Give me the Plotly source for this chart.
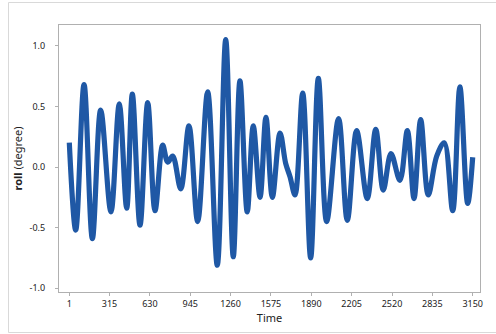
import plotly.graph_objects as go

# Key points (time, roll in degrees)
time_pts = [1, 51, 116, 181, 246, 326, 391, 449, 493, 553, 613, 670, 730, 769, 808,
            871, 935, 1003, 1081, 1156, 1222, 1281, 1333, 1390, 1437, 1490, 1536,
            1586, 1646, 1690, 1724, 1763, 1823, 1885, 1945, 2010, 2103, 2171, 2244,
            2327, 2393, 2452, 2512, 2582, 2640, 2692, 2744, 2803, 2869, 2928, 2994,
            3050, 3111, 3150]
roll_pts = [0.20, -0.52, 0.68, -0.59, 0.47, -0.37, 0.52, -0.34, 0.60, -0.48, 0.53,
            -0.36, 0.18, 0.04, 0.09, -0.18, 0.34, -0.45, 0.62, -0.81, 1.05, -0.74,
            0.71, -0.37, 0.34, -0.25, 0.41, -0.25, 0.28, 0.03, -0.08, -0.23, 0.61,
            -0.75, 0.73, -0.45, 0.40, -0.44, 0.30, -0.26, 0.31, -0.19, 0.11, -0.11,
            0.30, -0.26, 0.39, -0.23, 0.09, 0.20, -0.36, 0.66, -0.30, 0.08]

x_ticks = [1, 315, 630, 945, 1260, 1575, 1890, 2205, 2520, 2835, 3150]
y_ticks = [-1.0, -0.5, 0.0, 0.5, 1.0]
y_tick_text = ["-1.0", "-0.5", "0.0", "0.5", "1.0"]

BLUE = "#1f58a5"
FONT = "Noto Sans"

fig = go.Figure()
fig.add_trace(go.Scatter(
    x=time_pts, y=roll_pts, mode="lines",
    line=dict(color=BLUE, width=5.2, shape="spline", smoothing=1.0),
    hoverinfo="skip", showlegend=False,
))

W, H = 496, 334
L, R, T, B = 59, 16, 25, 42
pw, ph = W - L - R, H - T - B

def px2paper_x(px):
    return (px - L) / pw

def py2paper_y(py):
    return (H - B - py) / ph

frame = dict(color="#d9d9d9", width=1)
xl, xr = px2paper_x(8.5), px2paper_x(496)
yt, yb = py2paper_y(2.5), py2paper_y(332.5)
fig.add_shape(type="line", xref="paper", yref="paper", x0=xl, x1=xr, y0=yt, y1=yt, line=frame, layer="below")
fig.add_shape(type="line", xref="paper", yref="paper", x0=xl, x1=xr, y0=yb, y1=yb, line=frame, layer="below")
fig.add_shape(type="line", xref="paper", yref="paper", x0=xl, x1=xl, y0=yb, y1=yt, line=frame, layer="below")

fig.update_layout(
    width=W, height=H,
    margin=dict(l=L, r=R, t=T, b=B),
    paper_bgcolor="white", plot_bgcolor="white",
    font=dict(family=FONT, size=9, color="#222222"),
    xaxis=dict(
        range=[-79.5, 3207], tickvals=x_ticks, ticktext=[str(v) for v in x_ticks],
        ticks="outside", ticklen=3, tickcolor="#b0b0b0", showgrid=False, zeroline=False,
        showline=True, mirror=True, linecolor="#b0b0b0", linewidth=1,
        title=dict(text="Time", font=dict(size=11, family=FONT), standoff=3),
        tickfont=dict(size=9, family=FONT),
    ),
    yaxis=dict(
        range=[-1.0305, 1.1706], tickvals=y_ticks, ticktext=y_tick_text,
        ticks="outside", ticklen=3, tickcolor="#b0b0b0", showgrid=False, zeroline=False,
        showline=True, mirror=True, linecolor="#b0b0b0", linewidth=1,
        ticklabelstandoff=8,
        title=dict(text="<b>roll</b> (degree)", font=dict(size=11, family=FONT), standoff=4),
        tickfont=dict(size=9, family=FONT),
    ),
)

fig.write_html("out.html")
